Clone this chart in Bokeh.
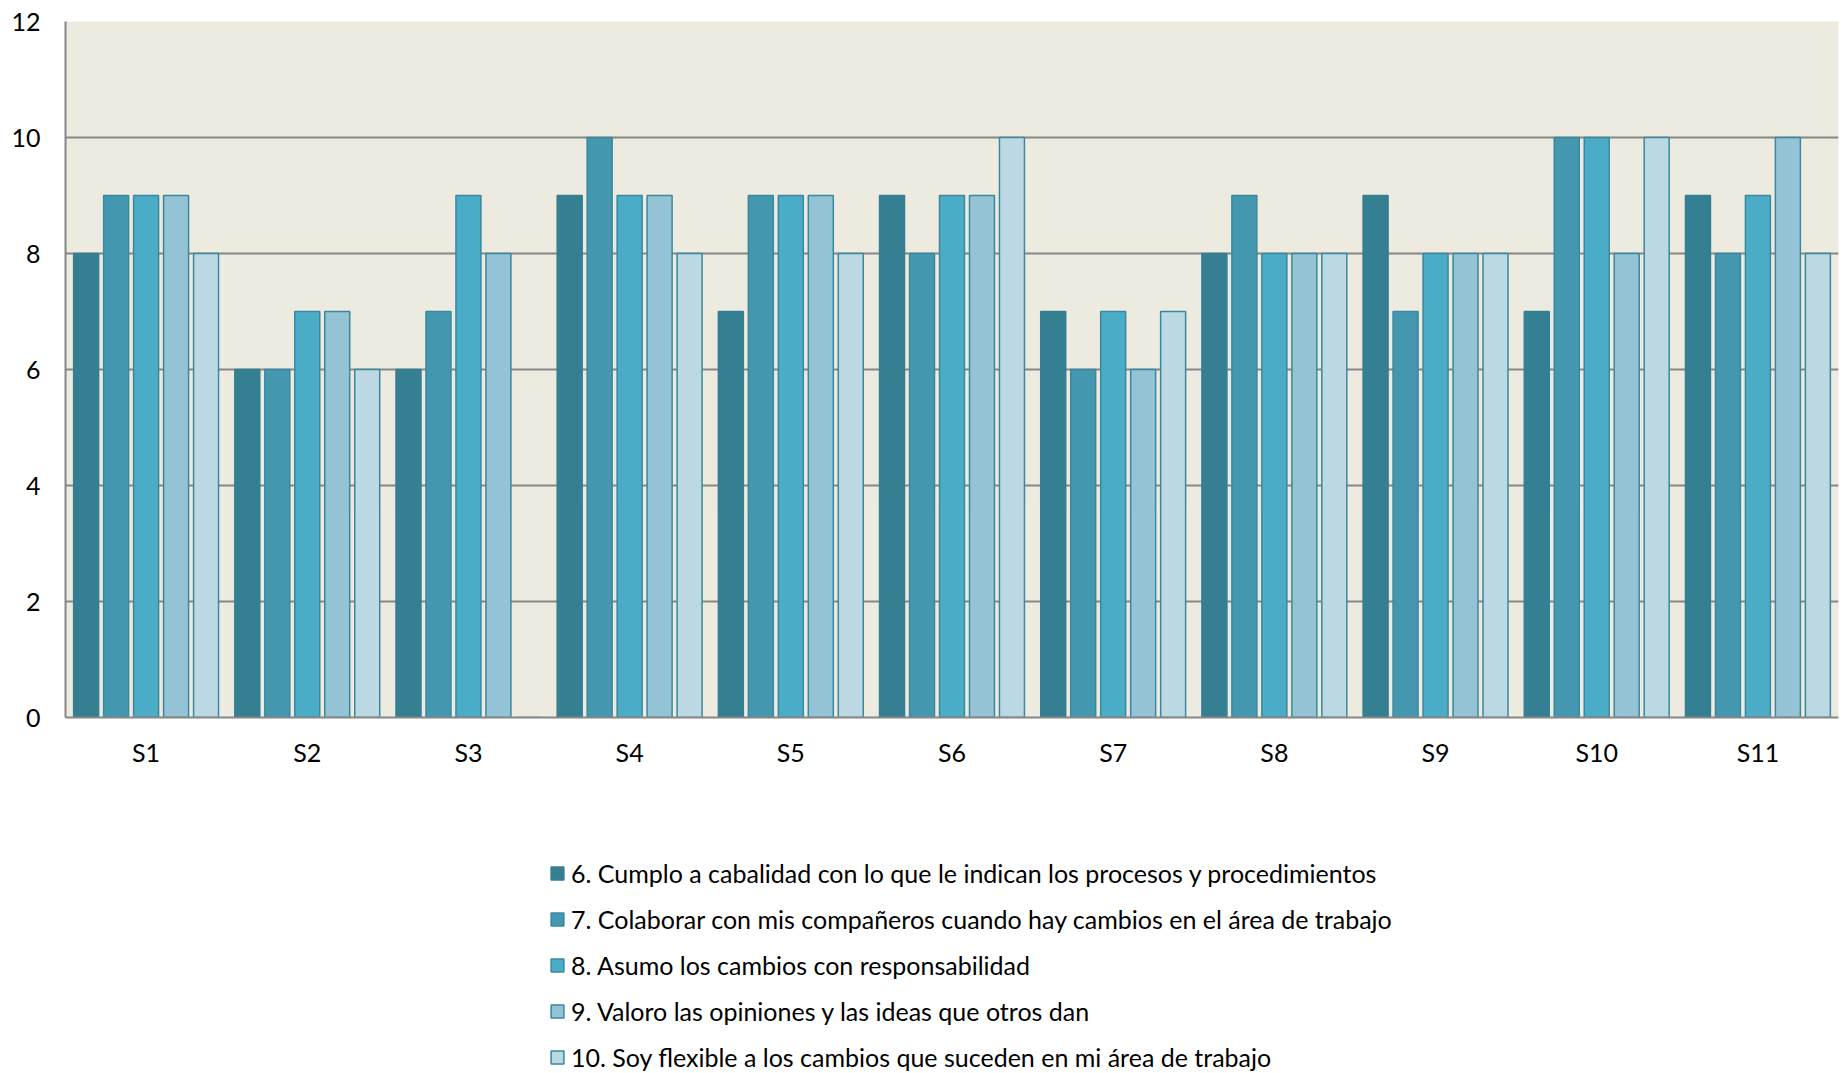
from bokeh.plotting import figure
from bokeh.layouts import column
from bokeh.models import ColumnDataSource, FactorRange, Legend, LegendItem, SingleIntervalTicker
from bokeh.transform import dodge
from bokeh.embed import file_html
from bokeh.resources import INLINE

# Survey respondents
categories = ["S1", "S2", "S3", "S4", "S5", "S6", "S7", "S8", "S9", "S10", "S11"]

# Scores per question
q6 = [8, 6, 6, 9, 7, 9, 7, 8, 9, 7, 9]
q7 = [9, 6, 7, 10, 9, 8, 6, 9, 7, 10, 8]
q8 = [9, 7, 9, 9, 9, 9, 7, 8, 8, 10, 9]
q9 = [9, 7, 8, 9, 9, 9, 6, 8, 8, 8, 10]
q10 = [8, 6, 0, 8, 8, 10, 7, 8, 8, 10, 8]

series_names = [
    "6. Cumplo a cabalidad con lo que le indican los procesos y procedimientos",
    "7. Colaborar con mis compañeros cuando hay cambios en el área de trabajo",
    "8. Asumo los cambios con responsabilidad",
    "9. Valoro las opiniones y las ideas que otros dan",
    "10. Soy flexible a los cambios que suceden en mi área de trabajo",
]

FONT = "Lato"
fills = ["#357F93", "#4398B0", "#4AACC6", "#93C3D4", "#BBD8E3"]
outlines = ["#357F93", "#3A889E", "#3A889E", "#3A889E", "#3A889E"]

source = ColumnDataSource(dict(cat=categories, q6=q6, q7=q7, q8=q8, q9=q9, q10=q10))

CHART_H = 790
p = figure(
    x_range=FactorRange(*categories, range_padding=0),
    y_range=(0, 12),
    width=1845, height=CHART_H,
    output_backend="svg", toolbar_location=None,
    min_border_left=65, min_border_right=7, min_border_top=21, min_border_bottom=73,
)
p.background_fill_color = "#EDEAE0"
p.border_fill_color = "white"
p.outline_line_color = None

pitch = 0.186
bar_w = 0.155
cols = ["q6", "q7", "q8", "q9", "q10"]
for i, col in enumerate(cols):
    p.vbar(
        x=dodge("cat", (i - 2) * pitch, range=p.x_range), top=col, width=bar_w,
        source=source, fill_color=fills[i], line_color=outlines[i], line_width=1.5,
    )

# axes
p.yaxis.ticker = SingleIntervalTicker(interval=2)
p.yaxis.axis_line_color = "#868686"
p.yaxis.axis_line_width = 2
p.yaxis.major_tick_line_color = None
p.yaxis.minor_tick_line_color = None
p.yaxis.major_label_text_font = FONT
p.yaxis.major_label_text_font_size = "25px"
p.yaxis.major_label_text_color = "black"
p.yaxis.major_label_standoff = 19

p.xaxis.axis_line_color = "#868686"
p.xaxis.axis_line_width = 2
p.xaxis.major_tick_line_color = None
p.xaxis.minor_tick_line_color = None
p.xaxis.major_label_text_font = FONT
p.xaxis.major_label_text_font_size = "25px"
p.xaxis.major_label_text_color = "black"
p.xaxis.major_label_standoff = 13

p.xgrid.grid_line_color = None
p.ygrid.grid_line_color = "#868686"
p.ygrid.grid_line_width = 2

# legend panel underneath the chart
LEG_H = 1073 - CHART_H
lp = figure(
    width=1845, height=LEG_H, x_range=(0, 1), y_range=(0, 1),
    output_backend="svg", toolbar_location=None,
    min_border=0,
)
lp.axis.visible = False
lp.grid.visible = False
lp.outline_line_color = None

# swatch renderers carry no drawable bar; only their legend glyphs show
swatches = []
for i in range(len(series_names)):
    swatches.append(lp.vbar(x=[0.5], top=[float("nan")], width=0.1, fill_color=fills[i],
                            line_color=outlines[i], line_width=1.5))

legend = Legend(
    items=[LegendItem(label=n, renderers=[r]) for n, r in zip(series_names, swatches)],
    location=(484, 1),
    orientation="vertical",
    label_text_font=FONT,
    label_text_font_size="25px",
    label_text_color="black",
    label_height=30,
    glyph_height=16,
    glyph_width=16,
    label_standoff=6,
    spacing=16,
    padding=0,
    margin=0,
    background_fill_alpha=0,
    border_line_color=None,
)
lp.add_layout(legend, "center")

layout = column(p, lp, spacing=0)
open("out.html", "w").write(file_html(layout, INLINE))
